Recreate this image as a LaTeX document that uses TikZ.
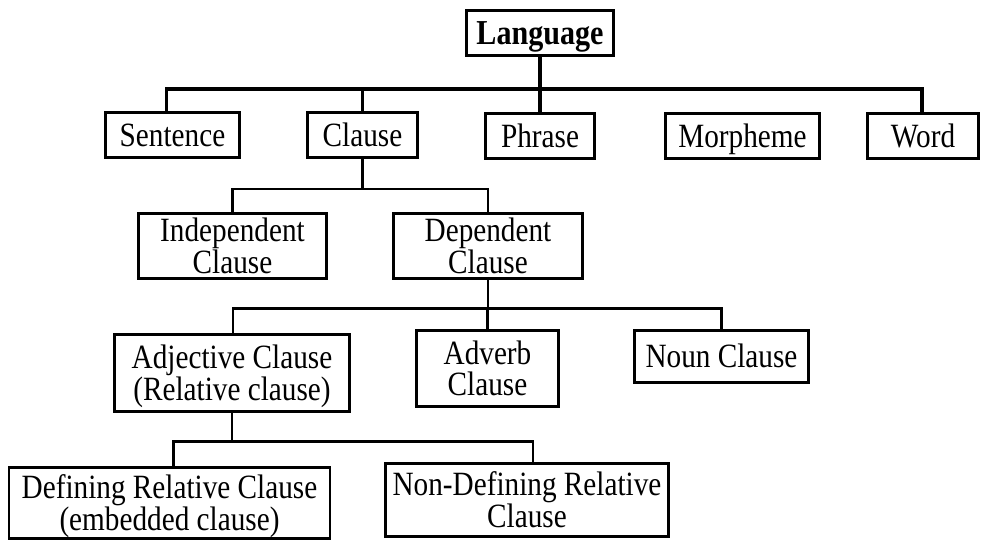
\documentclass[tikz,border=0pt]{standalone}
\usepackage{fontspec}
\setmainfont{Liberation Serif}[FakeStretch=0.86]
\usetikzlibrary{calc}
\begin{document}
\begin{tikzpicture}[x=1pt,y=-1pt,
  box/.style={draw, line width=2.6pt, align=center, inner sep=0pt,
    text height=22.5pt, text depth=0pt,
    font=\fontsize{34}{31.5}\selectfont},
  twoline/.style={text height=54pt, text depth=0pt},
  topbox/.style={box, line width=3.2pt},
  conn/.style={line width=2.7pt},
  topconn/.style={line width=3.8pt}]
\useasboundingbox (0,0) rectangle (984,541);
% level 0
\node[topbox, minimum width=147, minimum height=45,
  font=\fontsize{35}{31.5}\selectfont\bfseries] (lang) at (540,33) {Language};
% level 1
\node[topbox, minimum width=134, minimum height=45] (sentence) at (172.5,135) {Sentence};
\node[topbox, minimum width=110, minimum height=45] (clause) at (362.5,135) {Clause};
\node[topbox, minimum width=109, minimum height=45] (phrase) at (540,136) {Phrase};
\node[topbox, minimum width=154, minimum height=45] (morph) at (742.5,136) {Morpheme};
\node[topbox, minimum width=111, minimum height=45] (word) at (923,136) {Word};
% level 2
\node[box, twoline, minimum width=188, minimum height=65] (indep) at (232.5,246) {Independent\\Clause};
\node[box, twoline, minimum width=189, minimum height=65] (dep) at (488,246) {Dependent\\Clause};
% level 3
\node[box, twoline, minimum width=235, minimum height=77] (adj) at (232,373) {Adjective Clause\\(Relative clause)};
\node[box, twoline, minimum width=142, minimum height=76] (adverb) at (487.5,368.5) {Adverb\\Clause};
\node[box, minimum width=174, minimum height=52] (noun) at (721.5,356.5) {Noun Clause};
% level 4
\node[box, twoline, minimum width=321, minimum height=71] (def) at (169.5,503) {Defining Relative Clause\\(embedded clause)};
\node[box, twoline, minimum width=283, minimum height=73] (nondef) at (527,500) {Non-Defining Relative\\Clause};
% connectors
\draw[topconn] (lang.south) -- (phrase.north);
\draw[topconn] (lang.south) ++(0,32) -| ($(sentence.north)+(-6,0)$);
\draw[topconn] (lang.south) ++(0,32) -| (clause.north);
\draw[topconn] (lang.south) ++(0,32) -| ($(word.north)+(-1,0)$);
\draw[conn] (clause.south) -- ++(0,30) coordinate (b2);
\draw[conn] (b2) -| (indep.north);
\draw[conn] (b2) -| (dep.north);
\draw[conn] (dep.south) -- ++(0,29) coordinate (b3);
\draw[conn] (b3) -| ($(adj.north)+(1,0)$);
\draw[conn] (b3) -| (adverb.north);
\draw[conn] (b3) -| (noun.north);
\draw[conn] (adj.south) -- ++(0,29) coordinate (b4);
\draw[conn] (b4) -| ($(def.north)+(4,0)$);
\draw[conn] (b4) -| ($(nondef.north)+(6,0)$);
\end{tikzpicture}
\end{document}
